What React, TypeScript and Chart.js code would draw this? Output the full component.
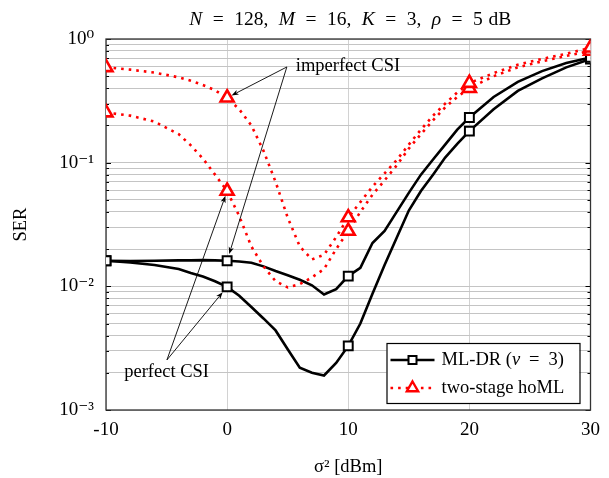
import React, { useEffect, useRef } from 'react';
import { Chart, registerables } from 'chart.js';

Chart.register(...registerables);

// ---- data ----
const xValues = [-10, -8, -6, -4, -3, -2, -1, 0, 1, 2, 3, 4, 5, 6, 7, 8, 9, 10, 11, 12, 13, 14, 15, 16, 17, 18, 19, 20, 22, 24, 26, 28, 30];
const mlDrImperfect = [0.0161, 0.016, 0.0161, 0.0162, 0.0162, 0.0163, 0.0162, 0.0161, 0.0159, 0.0155, 0.0145, 0.0133, 0.0123, 0.0113, 0.0102, 0.0086, 0.0095, 0.0121, 0.0141, 0.0224, 0.028, 0.04, 0.057, 0.08, 0.106, 0.14, 0.185, 0.232, 0.34, 0.45, 0.55, 0.64, 0.71];
const mlDrPerfect = [0.0161, 0.0156, 0.0149, 0.0138, 0.0128, 0.012, 0.011, 0.0099, 0.0084, 0.0068, 0.0055, 0.0044, 0.0031, 0.0022, 0.002, 0.0019, 0.0024, 0.0033, 0.005, 0.0087, 0.0149, 0.0247, 0.041, 0.059, 0.08, 0.11, 0.142, 0.18, 0.27, 0.38, 0.48, 0.59, 0.69];
const homlImperfect = [0.59, 0.565, 0.535, 0.49, 0.46, 0.425, 0.385, 0.335, 0.27, 0.2, 0.125, 0.07, 0.036, 0.021, 0.0165, 0.018, 0.025, 0.036, 0.048, 0.064, 0.082, 0.105, 0.14, 0.185, 0.24, 0.3, 0.37, 0.44, 0.53, 0.62, 0.69, 0.76, 0.85];
const homlPerfect = [0.254, 0.24, 0.215, 0.17, 0.138, 0.108, 0.08, 0.059, 0.037, 0.021, 0.0145, 0.011, 0.0098, 0.0104, 0.0118, 0.0138, 0.02, 0.028, 0.04, 0.055, 0.072, 0.095, 0.13, 0.17, 0.22, 0.28, 0.34, 0.4, 0.5, 0.59, 0.66, 0.73, 0.8];
const markerX = [-10, 0, 10, 20, 30];

const xTickValues = [-10, 0, 10, 20, 30];
const xTickLabels = ['-10', '0', '10', '20', '30'];
const yDecades = [0.001, 0.01, 0.1, 1];
const yTickLabels = ['10\u207B\u00B3', '10\u207B\u00B2', '10\u207B\u00B9', '10\u2070'];
const yMinorMultipliers = [2, 3, 4, 5, 6, 7, 8, 9];

const legendLabels = ['ML-DR', 'two-stage hoML'];
// [text, italic, relative gap after]
const titleParts: [string, boolean, number][] = [
  ['N', true, 1], ['=', false, 1], ['128,', false, 1], ['M', true, 1], ['=', false, 1], ['16,', false, 1],
  ['K', true, 1], ['=', false, 1], ['3,', false, 1], ['\u03C1', true, 1], ['=', false, 1], ['5', false, 0.55], ['dB', false, 0],
];
const annotationTexts = ['imperfect CSI', 'perfect CSI'];

const SERIF = "'Liberation Serif', 'Times New Roman', 'DejaVu Serif', serif";
const FS = 18.5;

type Part = [string, boolean, number];

function drawSpaced(ctx: CanvasRenderingContext2D, parts: Part[], x: number, y: number, size: number, align: 'left' | 'center', gap: number | null, targetWidth?: number) {
  const widths = parts.map(([t, it]) => {
    ctx.font = `${it ? 'italic ' : ''}${size}px ${SERIF}`;
    return ctx.measureText(t).width;
  });
  const glyphs = widths.reduce((s, w) => s + w, 0);
  const gapWeights = parts.reduce((s, p) => s + p[2], 0);
  const g = gap !== null ? gap : ((targetWidth ?? glyphs) - glyphs) / gapWeights;
  const total = glyphs + g * gapWeights;
  let cx = align === 'center' ? x - total / 2 : x;
  ctx.textAlign = 'left';
  ctx.textBaseline = 'middle';
  parts.forEach(([t, it, gw], i) => {
    ctx.font = `${it ? 'italic ' : ''}${size}px ${SERIF}`;
    ctx.fillText(t, cx, y);
    cx += widths[i] + g * gw;
  });
}

function arrow(ctx: CanvasRenderingContext2D, x0: number, y0: number, x1: number, y1: number, shorten: number) {
  const dx = x1 - x0, dy = y1 - y0;
  const len = Math.hypot(dx, dy);
  const ux = dx / len, uy = dy / len;
  const tx = x1 - ux * shorten, ty = y1 - uy * shorten;
  const hl = 7, hw = 2.6;
  ctx.beginPath();
  ctx.moveTo(x0, y0);
  ctx.lineTo(tx - ux * hl * 0.8, ty - uy * hl * 0.8);
  ctx.lineWidth = 0.9;
  ctx.strokeStyle = '#000';
  ctx.stroke();
  ctx.beginPath();
  ctx.moveTo(tx, ty);
  ctx.lineTo(tx - ux * hl - uy * hw, ty - uy * hl + ux * hw);
  ctx.lineTo(tx - ux * hl * 0.75, ty - uy * hl * 0.75);
  ctx.lineTo(tx - ux * hl + uy * hw, ty - uy * hl - ux * hw);
  ctx.closePath();
  ctx.fillStyle = '#000';
  ctx.fill();
}

export default function App() {
  const ref = useRef<HTMLCanvasElement>(null);

  useEffect(() => {
    document.body.style.margin = '0';
    const canvas = ref.current!;
    const isMarker = (i: number) => markerX.includes(xValues[i]);
    const pts = (arr: number[]) => xValues.map((x, i) => ({ x, y: arr[i] }));
    const i0 = xValues.indexOf(0);

    const framePlugin = {
      id: 'frame',
      beforeDatasetsDraw(chart: any) {
        const { ctx, chartArea: a, scales } = chart;
        const ys = scales.y;
        ctx.save();
        ctx.strokeStyle = '#000';
        ctx.lineWidth = 1;
        ys.ticks.forEach((t: any) => {
          const major = yDecades.some((d) => Math.abs(t.value / d - 1) < 1e-6);
          const py = Math.round(ys.getPixelForValue(t.value)) + 0.5;
          const l = major ? 5 : 3;
          ctx.beginPath();
          ctx.moveTo(a.left, py); ctx.lineTo(a.left + l, py);
          ctx.moveTo(a.right, py); ctx.lineTo(a.right - l, py);
          ctx.stroke();
        });
        ctx.lineWidth = 1.3;
        ctx.strokeStyle = '#333';
        ctx.strokeRect(a.left, a.top, a.right - a.left, a.bottom - a.top);
        ctx.restore();
      },
    };

    const overlayPlugin = {
      id: 'overlay',
      afterDatasetsDraw(chart: any) {
        const { ctx, chartArea: a, scales } = chart;
        const xs = scales.x, ys = scales.y;
        const px = (v: number) => xs.getPixelForValue(v);
        const py = (v: number) => ys.getPixelForValue(v);
        ctx.save();
        // title
        ctx.fillStyle = '#000';
        drawSpaced(ctx, titleParts, (a.left + a.right) / 2 + 2, 20, 19.5, 'center', null, 322);

        // annotations
        ctx.font = `${FS}px ${SERIF}`;
        ctx.fillStyle = '#000';
        ctx.textBaseline = 'middle';
        ctx.textAlign = 'left';
        ctx.fillText(annotationTexts[0], px(5.67), py(0.6));
        const o1x = px(4.93), o1y = py(0.594);
        arrow(ctx, o1x, o1y, px(0), py(homlImperfect[i0]), 5);
        arrow(ctx, o1x, o1y, px(0), py(mlDrImperfect[i0]), 7);
        ctx.textAlign = 'center';
        ctx.fillText(annotationTexts[1], px(-5.0), py(0.00203));
        const o2x = px(-4.97), o2y = py(0.00254);
        arrow(ctx, o2x, o2y, px(0), py(homlPerfect[i0]), 5);
        arrow(ctx, o2x, o2y, px(0), py(mlDrPerfect[i0]), 7);

        // legend
        const w = 193, h = 60;
        const lx = a.right - 11 - w, ly = a.bottom - 7 - h;
        ctx.fillStyle = '#fff';
        ctx.fillRect(lx, ly, w, h);
        ctx.strokeStyle = '#000';
        ctx.lineWidth = 1.2;
        ctx.strokeRect(lx + 0.5, ly + 0.5, w, h);
        const r1 = ly + 17, r2 = ly + 45;
        // row 1
        ctx.beginPath();
        ctx.moveTo(lx + 4, r1); ctx.lineTo(lx + 48, r1);
        ctx.lineWidth = 2.6; ctx.strokeStyle = '#000'; ctx.stroke();
        ctx.fillStyle = '#fff'; ctx.lineWidth = 2;
        ctx.fillRect(lx + 22, r1 - 4, 8, 8); ctx.strokeRect(lx + 22, r1 - 4, 8, 8);
        ctx.fillStyle = '#000';
        drawSpaced(ctx, [[legendLabels[0] + ' (', false, 0], ['\u03BD', true, 1], ['=', false, 1], ['3)', false, 0]], lx + 55, r1, FS, 'left', 9);
        // row 2
        ctx.beginPath();
        ctx.setLineDash([2.6, 5]);
        ctx.moveTo(lx + 4, r2); ctx.lineTo(lx + 48, r2);
        ctx.lineWidth = 2.6; ctx.strokeStyle = '#ff0000'; ctx.stroke();
        ctx.setLineDash([]);
        ctx.beginPath();
        const tr = 6.5, cx = lx + 26;
        ctx.moveTo(cx, r2 - tr);
        ctx.lineTo(cx + tr * 0.866, r2 + tr * 0.5);
        ctx.lineTo(cx - tr * 0.866, r2 + tr * 0.5);
        ctx.closePath();
        ctx.fillStyle = '#fff'; ctx.fill();
        ctx.lineWidth = 2.4; ctx.strokeStyle = '#ff0000'; ctx.stroke();
        ctx.fillStyle = '#000';
        drawSpaced(ctx, [[legendLabels[1], false, 0]], lx + 55, r2, FS, 'left', 0);
        ctx.restore();
      },
    };

    const blackBase = {
      borderColor: '#000', borderWidth: 2.6, pointStyle: 'rect' as const,
      pointRadius: (c: any) => (isMarker(c.dataIndex) ? 6.3 : 0),
      pointBackgroundColor: '#fff', pointBorderColor: '#000', pointBorderWidth: 2,
      tension: 0, clip: 0, order: 1, fill: false,
    };
    const redBase = {
      borderColor: '#ff0000', borderWidth: 2.6, borderDash: [2.6, 5], pointStyle: 'triangle' as const,
      pointRadius: (c: any) => (isMarker(c.dataIndex) ? 7.5 : 0),
      pointBackgroundColor: '#fff', pointBorderColor: '#ff0000', pointBorderWidth: 2.6,
      tension: 0, clip: 0, order: 0, fill: false,
    };

    const chart = new Chart(canvas, {
      type: 'line',
      data: {
        datasets: [
          { ...redBase, label: 'two-stage hoML (imperfect CSI)', data: pts(homlImperfect) },
          { ...redBase, label: 'two-stage hoML (perfect CSI)', data: pts(homlPerfect) },
          { ...blackBase, label: 'ML-DR (imperfect CSI)', data: pts(mlDrImperfect) },
          { ...blackBase, label: 'ML-DR (perfect CSI)', data: pts(mlDrPerfect) },
        ],
      },
      options: {
        responsive: false,
        animation: false,
        events: [],
        layout: { padding: { top: 39, right: 18, left: 0, bottom: 0 } },
        plugins: { legend: { display: false }, tooltip: { enabled: false }, title: { display: false } },
        scales: {
          x: {
            type: 'linear', min: -10, max: 30,
            afterBuildTicks: (s: any) => { s.ticks = xTickValues.map((v) => ({ value: v })); },
            afterFit: (s: any) => { s.height = 68; },
            ticks: {
              autoSkip: false, padding: 9, color: '#000', maxRotation: 0,
              font: { family: SERIF, size: 19 },
              callback: (v: any) => xTickLabels[xTickValues.indexOf(Number(v))] ?? '',
            },
            grid: { color: '#d2d2d2', lineWidth: 1, drawTicks: false },
            border: { display: false },
            title: { display: true, text: '\u03C3\u00B2 [dBm]', color: '#000', font: { family: SERIF, size: FS }, padding: { top: 2, bottom: 0 } },
          },
          y: {
            type: 'logarithmic', min: 0.001, max: 1,
            afterBuildTicks: (s: any) => {
              const t: { value: number }[] = [];
              yDecades.forEach((d, i) => {
                t.push({ value: d });
                if (i < yDecades.length - 1) yMinorMultipliers.forEach((m) => t.push({ value: m * d }));
              });
              s.ticks = t;
            },
            afterFit: (s: any) => { s.width = 106; },
            ticks: {
              autoSkip: false, padding: 12, color: '#000',
              font: { family: SERIF, size: 19 },
              callback: (v: any) => {
                const i = yDecades.findIndex((d) => Math.abs(Number(v) / d - 1) < 1e-6);
                return i >= 0 ? yTickLabels[i] : '';
              },
            },
            grid: { color: '#c4c4c4', lineWidth: 1, drawTicks: false },
            border: { display: false },
            title: { display: true, text: 'SER', color: '#000', font: { family: SERIF, size: FS }, padding: { top: 10, bottom: 0 } },
          },
        },
      },
      plugins: [framePlugin, overlayPlugin],
    } as any);

    return () => chart.destroy();
  }, []);

  return (
    <div style={{ position: 'absolute', left: 0, top: 0, width: 609, height: 478 }}>
      <canvas ref={ref} width={609} height={478} style={{ display: 'block' }} />
    </div>
  );
}
